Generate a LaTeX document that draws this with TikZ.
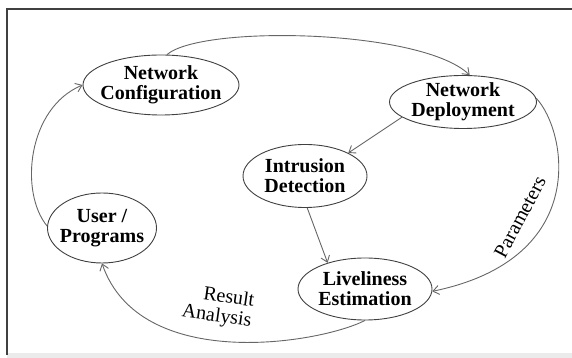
\documentclass[tikz,border=0pt]{standalone}
\usepackage{fontspec}
\setmainfont{Liberation Serif}
\usetikzlibrary{arrows.meta,shapes.geometric}

\begin{document}
\begin{tikzpicture}[
    x=1pt,y=1pt,
    >={Straight Barb[length=6pt,width=9pt]},
    stage/.style={ellipse,draw=black!75,line width=0.9pt,inner sep=-12pt,align=center,
      font=\bfseries\fontsize{20}{20}\selectfont},
    flow/.style={->,draw=black!60,line width=0.9pt},
    lbl/.style={font=\fontsize{20}{20}\selectfont,inner sep=0pt}]
  % ---- frame ----
  \useasboundingbox (0,0) rectangle (572,358);
  \fill[black!8] (7,0) rectangle (572,5);
  \draw[black!75,line width=1.5pt] (7,3) -- (7,349) -- (575,349);
  % ---- stages ----
  \node[stage,minimum width=156pt,minimum height=60pt] (netconf) at (161,273) {Network\\Configuration};
  \node[stage,minimum width=147pt,minimum height=53pt] (netdep) at (463,256) {Network\\Deployment};
  \node[stage,minimum width=124pt,minimum height=63pt] (intdet) at (305,182) {Intrusion\\Detection};
  \node[stage,minimum width=109pt,minimum height=70pt] (users) at (102,130) {User /\\Programs};
  \node[stage,minimum width=134pt,minimum height=62pt] (liveest) at (365,69) {Liveliness\\Estimation};
  % ---- flows ----
  \draw[flow] (netconf.79) .. controls +(35,30) and +(-48,46) .. (netdep.76);
  \draw[flow] (netdep.194) -- (intdet.28);
  \draw[flow] (intdet.274) -- (liveest.145);
  \draw[flow] (netdep.3) .. controls +(30,-32) and +(160,33) .. (liveest.-2);
  \draw[flow] (liveest.south) .. controls +(-45,-23) and +(38,-110) .. (users.south);
  \draw[flow] (users.178) .. controls +(-28,34) and +(-55,-23) .. (netconf.west);
  % ---- labels ----
  \node[lbl,align=right,rotate=-8] (resana) at (218,51) {Result\\Analysis};
  \node[lbl,rotate=62] (params) at (520,141) {Parameters};
\end{tikzpicture}
\end{document}
